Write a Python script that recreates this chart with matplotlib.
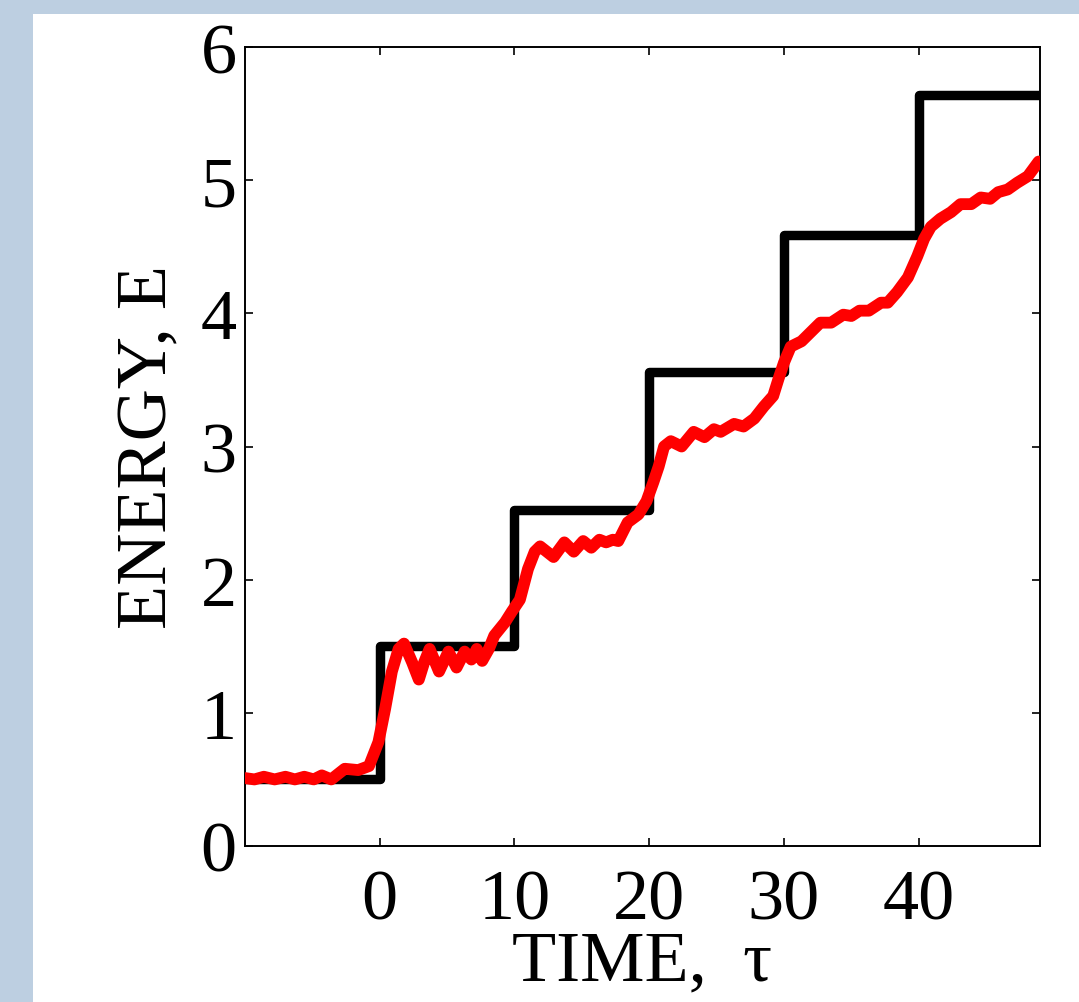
import matplotlib
matplotlib.use('Agg')
import matplotlib.pyplot as plt
from matplotlib.patches import Rectangle

# staircase of target levels, one per interval
step_times = [-10, 0, 10, 20, 30, 40, 49]
step_levels = [0.50, 1.50, 2.52, 3.56, 4.59, 5.64, 5.64]

# simulated energy
tau = [-10.0, -9.3, -8.6, -7.8, -7.0, -6.3, -5.6, -4.9, -4.3, -3.6,
       -2.6, -1.6, -0.8, -0.1, 0.4, 0.9, 1.4, 1.8, 2.4, 2.9,
       3.3, 3.7, 4.4, 5.1, 5.7, 6.3, 6.8, 7.2, 7.6, 8.1,
       8.5, 9.3, 9.8, 10.4, 11.0, 11.5, 11.9, 12.9, 13.7, 14.4,
       15.1, 15.7, 16.3, 16.8, 17.3, 17.7, 18.4, 19.2, 19.8, 20.3,
       20.7, 21.1, 21.6, 22.4, 23.3, 24.1, 24.8, 25.3, 26.3, 27.0,
       27.8, 28.5, 29.2, 29.6, 30.0, 30.5, 31.3, 32.0, 32.7, 33.5,
       34.4, 35.0, 35.6, 36.3, 37.2, 37.7, 38.4, 39.2, 39.9, 40.4,
       40.9, 41.6, 42.4, 43.1, 43.9, 44.6, 45.3, 45.9, 46.6, 47.3,
       48.1, 48.9]
energy = [0.51, 0.50, 0.52, 0.50, 0.52, 0.50, 0.52, 0.50, 0.53, 0.50,
          0.58, 0.57, 0.60, 0.78, 1.03, 1.31, 1.48, 1.52, 1.38, 1.25,
          1.38, 1.48, 1.31, 1.46, 1.34, 1.46, 1.40, 1.48, 1.39, 1.48,
          1.58, 1.68, 1.76, 1.85, 2.08, 2.21, 2.25, 2.17, 2.28, 2.21,
          2.29, 2.24, 2.30, 2.28, 2.30, 2.29, 2.43, 2.49, 2.59, 2.73,
          2.85, 3.00, 3.04, 3.00, 3.11, 3.07, 3.13, 3.11, 3.17, 3.15,
          3.21, 3.30, 3.38, 3.51, 3.63, 3.75, 3.79, 3.86, 3.93, 3.93,
          3.99, 3.98, 4.02, 4.02, 4.08, 4.08, 4.16, 4.27, 4.43, 4.56,
          4.65, 4.71, 4.76, 4.82, 4.82, 4.87, 4.86, 4.91, 4.93, 4.98,
          5.03, 5.14]

x_ticks = [0, 10, 20, 30, 40]
y_ticks = [0, 1, 2, 3, 4, 5, 6]

plt.rcParams['font.family'] = ['Liberation Serif', 'DejaVu Serif']

fig = plt.figure(figsize=(10.79, 10.03), dpi=100, facecolor='#bdcfe1')
# white panel behind the axes
fig.patches.append(Rectangle((33 / 1079, 0), 1 - 33 / 1079, 1 - 15 / 1003,
                             transform=fig.transFigure, facecolor='white',
                             edgecolor='none', zorder=-1))

ax = fig.add_axes([245 / 1079, 1 - 847 / 1003, 795 / 1079, 799 / 1003])
ax.set_facecolor('white')

ax.step(step_times, step_levels, where='post', color='black', lw=6.8,
        solid_joinstyle='round', solid_capstyle='butt', zorder=2)
ax.plot(tau, energy, color='#ff0000', lw=8.5, solid_joinstyle='round',
        solid_capstyle='round', zorder=3)

ax.set_xlim(-10, 49)
ax.set_ylim(0, 6)
ax.set_xticks(x_ticks)
ax.set_yticks(y_ticks)

for s in ax.spines.values():
    s.set_linewidth(1.4)

ax.tick_params(axis='both', direction='in', length=6, width=1.2,
               top=True, right=True, labelsize=52)
ax.tick_params(axis='x', pad=16)
ax.tick_params(axis='y', pad=6)

ax.set_xlabel('TIME,  τ', fontsize=52, labelpad=-3)
ax.set_ylabel('ENERGY, E', fontsize=52, labelpad=14)

fig.savefig('out.png', dpi=100, facecolor=fig.get_facecolor())
